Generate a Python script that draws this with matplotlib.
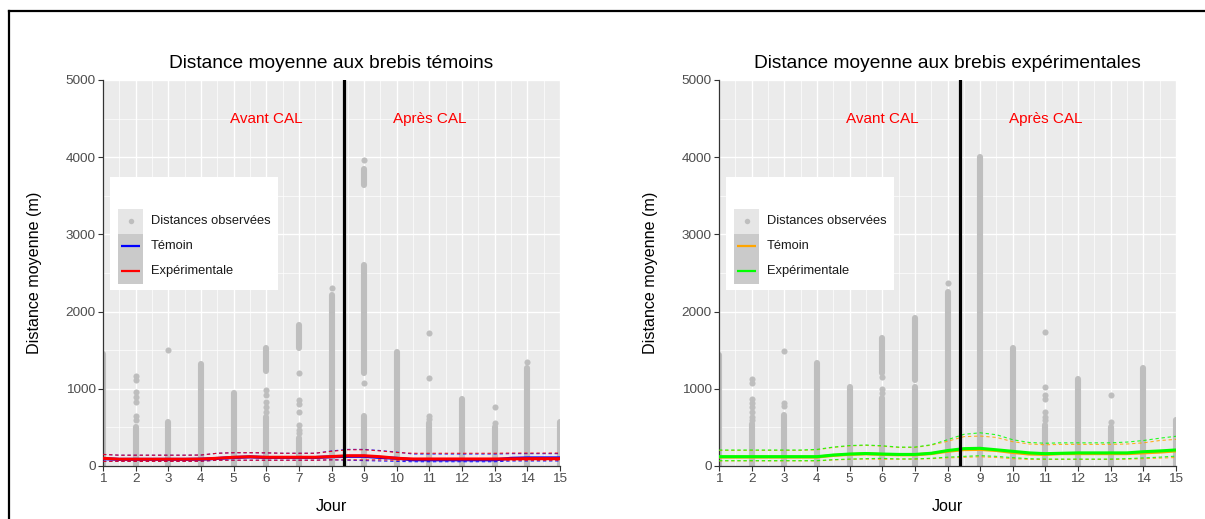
import matplotlib
matplotlib.use("Agg")
import matplotlib.pyplot as plt
from matplotlib.lines import Line2D
from matplotlib.patches import Rectangle
from matplotlib.ticker import MultipleLocator

plt.rcParams['font.family'] = ['Liberation Sans', 'DejaVu Sans']

# ---------------------------------------------------------------- data
jours = list(range(1, 16))
jours_courbe = [1 + 0.5 * i for i in range(29)]
jour_cal = 8.37

# distances observées (m) : colonnes denses depuis 0, segments denses, points isolés
temoins_colonne_max = [1450, 500, 570, 1320, 950, 640, 360, 2220, 650, 1480, 560, 870, 500, 1270, 570]
temoins_segments = [(6, 1230, 1530), (7, 1530, 1820), (9, 1200, 2600), (9, 3640, 3850)]
temoins_isoles = {2: [1160, 1120, 960, 900, 830, 650, 600], 3: [1500],
                  6: [980, 920, 830, 760, 700],
                  7: [1200, 850, 800, 700, 530, 470, 430], 8: [2300],
                  9: [3970, 1075], 11: [1720, 1140, 650, 610], 13: [770, 560], 14: [1350]}

exper_colonne_max = [1440, 540, 660, 1340, 1020, 880, 1020, 2260, 4000, 1530, 530, 1130, 500, 1270, 600]
exper_segments = [(6, 1200, 1660), (7, 1110, 1920)]
exper_isoles = {2: [1130, 1070, 870, 820, 770, 700, 640, 590], 3: [1490, 820, 780],
                6: [1150, 1000, 950], 8: [2370],
                11: [1740, 1020, 920, 870, 700, 640, 590], 13: [920, 570]}

# courbes lissées (panneau témoins)
t_temoin = [95, 86, 86, 86, 86, 86, 88, 98, 110, 118, 110, 110, 110, 110, 120, 125, 125, 110, 100,
            80, 80, 80, 80, 80, 80, 100, 105, 105, 105]
t_temoin_hi = [150, 140, 140, 140, 140, 140, 142, 165, 172, 172, 170, 165, 165, 165, 195, 215, 215, 200, 180,
               155, 155, 155, 155, 155, 155, 160, 160, 160, 160]
t_temoin_lo = [60, 60, 60, 60, 60, 60, 62, 75, 75, 75, 75, 75, 75, 75, 80, 75, 70, 65, 60,
               55, 55, 55, 55, 55, 55, 65, 65, 65, 65]
t_exper = [100, 88, 88, 88, 88, 88, 90, 100, 113, 120, 113, 113, 113, 113, 122, 133, 133, 120, 100,
           91, 91, 91, 91, 91, 91, 93, 95, 95, 95]
t_exper_hi = [150, 140, 140, 140, 140, 140, 142, 165, 172, 172, 170, 165, 165, 165, 190, 210, 210, 195, 175,
              165, 165, 165, 165, 165, 165, 168, 168, 168, 168]
t_exper_lo = [60, 60, 60, 60, 60, 60, 62, 75, 75, 75, 75, 75, 75, 75, 80, 80, 80, 80, 75,
              75, 75, 75, 75, 75, 75, 75, 75, 75, 75]

# courbes lissées (panneau expérimentales)
e_temoin = [116, 116, 116, 116, 116, 116, 116, 137, 150, 157, 150, 145, 145, 160, 190, 212, 215, 200, 175,
            155, 150, 160, 160, 160, 160, 160, 170, 180, 195]
e_temoin_hi = [202, 202, 202, 202, 202, 202, 210, 240, 260, 267, 257, 240, 240, 270, 320, 380, 388, 370, 315,
               285, 275, 280, 280, 280, 280, 285, 300, 330, 345]
e_temoin_lo = [66, 66, 66, 66, 66, 66, 66, 78, 86, 90, 86, 88, 88, 95, 105, 112, 120, 110, 95,
               85, 85, 85, 85, 85, 85, 88, 95, 102, 110]
e_exper = [121, 121, 121, 121, 121, 121, 121, 142, 155, 162, 155, 150, 150, 165, 200, 225, 229, 210, 190,
           170, 160, 165, 170, 170, 170, 170, 185, 195, 208]
e_exper_hi = [207, 207, 207, 207, 207, 207, 215, 245, 265, 272, 262, 245, 245, 275, 340, 410, 430, 405, 340,
              305, 295, 300, 300, 300, 300, 310, 330, 360, 385]
e_exper_lo = [69, 69, 69, 69, 69, 69, 69, 82, 90, 95, 99, 92, 92, 100, 115, 125, 134, 125, 108,
              95, 90, 90, 90, 90, 90, 95, 105, 115, 128]

# ---------------------------------------------------------------- style
GRIS_POINT = '#BEBEBE'
FOND = '#EBEBEB'
TICK_COL = '#4D4D4D'
PT_DIAM = 4.4  # diamètre des points, en pt

fig = plt.figure(figsize=(12.05, 5.19), dpi=100)
fig.patch.set_facecolor('white')

# cadre noir (haut et gauche)
fig.add_artist(Line2D([9 / 1205, 1.0], [1 - 11 / 519, 1 - 11 / 519], transform=fig.transFigure,
                      color='black', lw=1.6))
fig.add_artist(Line2D([9 / 1205, 9 / 1205], [1 - 11 / 519, 0.0], transform=fig.transFigure,
                      color='black', lw=1.6))


def panneau(left, titre, colonne_max, segments, isoles, series, col_t, col_e):
    ax = fig.add_axes([left, 1 - 466 / 519, 457 / 1205, 386 / 519])
    ax.set_facecolor(FOND)
    ax.set_xlim(1, 15)
    ax.set_ylim(0, 5000)
    ax.xaxis.set_major_locator(MultipleLocator(1))
    ax.xaxis.set_minor_locator(MultipleLocator(0.5))
    ax.yaxis.set_major_locator(MultipleLocator(1000))
    ax.yaxis.set_minor_locator(MultipleLocator(500))
    ax.grid(which='major', color='white', lw=1.0)
    ax.grid(which='minor', color='white', lw=0.5)
    ax.set_axisbelow(True)
    for s in ('top', 'right'):
        ax.spines[s].set_visible(False)
    for s in ('left', 'bottom'):
        ax.spines[s].set_color('#333333')
        ax.spines[s].set_linewidth(0.9)
    ax.tick_params(which='major', length=3.5, color='#333333', labelcolor=TICK_COL,
                   labelsize=9.7, pad=1.8)
    ax.tick_params(which='minor', length=0)

    # distances observées
    ax.vlines(jours, [0] * len(jours), colonne_max, colors=GRIS_POINT, lw=PT_DIAM,
              capstyle='round', zorder=2)
    for d, lo, hi in segments:
        ax.vlines(d, lo, hi, colors=GRIS_POINT, lw=PT_DIAM, capstyle='round', zorder=2)
    for d, vals in isoles.items():
        ax.scatter([d] * len(vals), vals, s=PT_DIAM ** 2, color=GRIS_POINT, lw=0, zorder=2)

    (t_m, t_hi, t_lo), (e_m, e_hi, e_lo) = series
    dash = dict(lw=0.8, ls=(0, (3, 2.5)), alpha=0.85, zorder=3)
    ax.plot(jours_courbe, t_hi, color=col_t, **dash)
    ax.plot(jours_courbe, t_lo, color=col_t, **dash)
    ax.plot(jours_courbe, e_hi, color=col_e, **dash)
    ax.plot(jours_courbe, e_lo, color=col_e, **dash)
    ax.plot(jours_courbe, t_m, color=col_t, lw=2.2, zorder=4, solid_capstyle='butt')
    ax.plot(jours_courbe, e_m, color=col_e, lw=2.2, zorder=5, solid_capstyle='butt')

    ax.axvline(jour_cal, color='black', lw=2.3, zorder=6)
    ax.text(6, 4500, 'Avant CAL', color='red', fontsize=11, ha='center', va='center')
    ax.text(11, 4500, 'Après CAL', color='red', fontsize=11, ha='center', va='center')

    ax.set_title(titre, fontsize=13.8, pad=9)
    ax.set_xlabel('Jour', fontsize=11.6, labelpad=10)
    ax.set_ylabel('Distance moyenne (m)', fontsize=11.6, labelpad=17)

    # légende
    tr = ax.transAxes
    ax.add_patch(Rectangle((0.016, 0.456), 0.366, 0.293, transform=tr, facecolor='white',
                           edgecolor='none', zorder=7))
    kx0, kw = 0.033, 0.055
    row_h = 25 / 386
    y_rows = [1 - (221 - 80) / 386, 1 - (246 - 80) / 386, 1 - (271 - 80) / 386]
    ax.add_patch(Rectangle((kx0, y_rows[0] - row_h / 2), kw, row_h, transform=tr,
                           facecolor='#E6E6E6', edgecolor='none', zorder=8))
    ax.add_patch(Rectangle((kx0, y_rows[2] - row_h / 2), kw, 2 * row_h, transform=tr,
                           facecolor='#CACACA', edgecolor='none', zorder=8))
    ax.scatter([kx0 + kw / 2], [y_rows[0]], s=PT_DIAM ** 2 * 0.8, color=GRIS_POINT, lw=0,
               transform=tr, zorder=9, clip_on=False)
    ax.plot([kx0 + 0.006, kx0 + kw - 0.006], [y_rows[1]] * 2, color=col_t, lw=1.6,
            transform=tr, zorder=9, solid_capstyle='butt')
    ax.plot([kx0 + 0.006, kx0 + kw - 0.006], [y_rows[2]] * 2, color=col_e, lw=1.6,
            transform=tr, zorder=9, solid_capstyle='butt')
    for y, lab in zip(y_rows, ['Distances observées', 'Témoin', 'Expérimentale']):
        ax.text(0.104, y, lab, transform=tr, fontsize=9.3, va='center', ha='left', zorder=9,
                color='#1A1A1A')
    return ax


panneau(103 / 1205, 'Distance moyenne aux brebis témoins',
        temoins_colonne_max, temoins_segments, temoins_isoles,
        [(t_temoin, t_temoin_hi, t_temoin_lo), (t_exper, t_exper_hi, t_exper_lo)],
        '#0000FF', '#FF0000')
panneau(719 / 1205, 'Distance moyenne aux brebis expérimentales',
        exper_colonne_max, exper_segments, exper_isoles,
        [(e_temoin, e_temoin_hi, e_temoin_lo), (e_exper, e_exper_hi, e_exper_lo)],
        '#FFA500', '#00FF00')

fig.savefig('out.png', dpi=100)
